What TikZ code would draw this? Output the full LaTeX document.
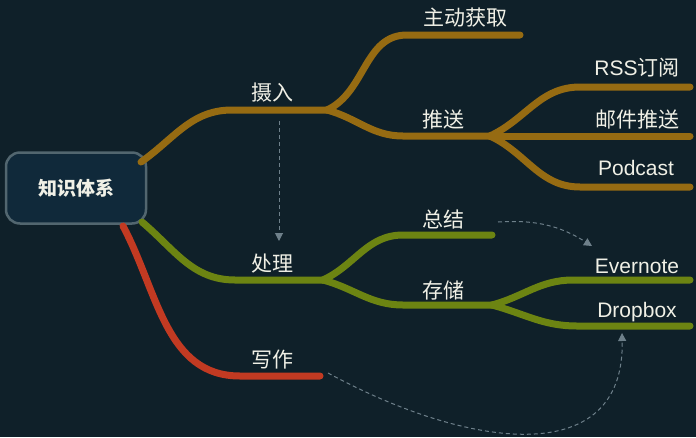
\documentclass[tikz,border=0pt]{standalone}
\usepackage{fontspec}
\setmainfont{Liberation Sans}
\newfontfamily\cjk{Noto Sans CJK SC}
\usepackage{xcolor}
\usetikzlibrary{arrows.meta}
\usetikzlibrary{positioning}

\definecolor{bgcol}{HTML}{0F2029}
\definecolor{boxfill}{HTML}{10293A}
\definecolor{boxline}{HTML}{52666F}
\definecolor{brown}{HTML}{966B12}
\definecolor{olive}{HTML}{6C8412}
\definecolor{redbr}{HTML}{C23A22}
\definecolor{txt}{HTML}{F0F0E6}
\definecolor{dash}{HTML}{6E808A}

\begin{document}
\begin{tikzpicture}[x=1pt,y=-1pt,
    branch/.style={line width=7pt,line cap=round},
    lbl/.style={text=txt,font=\fontsize{21}{25}\selectfont,inner sep=0pt},
    rootbox/.style={draw=boxline,line width=2.5pt,fill=boxfill,rounded corners=14pt,minimum width=140pt,minimum height=71pt,text=txt,font=\cjk\bfseries\fontsize{19}{23}\selectfont},
    link/.style={draw=dash,line width=1pt,dash pattern=on 4pt off 3pt,-{Triangle[length=8pt,width=8pt]}}]

    \useasboundingbox (0,0) rectangle (696,437);
    \fill[bgcol] (0,0) rectangle (696,437);

    % root
    \node[rootbox] (root) at (76,188) {知识体系};

    % points of the branches
    \coordinate (in0) at (141,162);
    \coordinate (in1) at (232,110);
    \coordinate (in2) at (327,110);
    \coordinate (get1) at (407,35);
    \coordinate (get2) at (520,35);
    \coordinate (push1) at (403,136);
    \coordinate (push2) at (490,136);
    \coordinate (rss1) at (580,87);
    \coordinate (rss2) at (690,87);
    \coordinate (mail2) at (690,136);
    \coordinate (pod1) at (580,187);
    \coordinate (pod2) at (690,187);

    \coordinate (do0) at (142,222);
    \coordinate (do1) at (235,280);
    \coordinate (do2) at (323,280);
    \coordinate (sum1) at (403,235);
    \coordinate (sum2) at (492,235);
    \coordinate (keep1) at (403,305);
    \coordinate (keep2) at (492,305);
    \coordinate (ever1) at (573,280);
    \coordinate (ever2) at (690,280);
    \coordinate (drop1) at (577,326);
    \coordinate (drop2) at (690,326);

    \coordinate (wr0) at (123,226);
    \coordinate (wr1) at (240,376);
    \coordinate (wr2) at (320,376);

    % branches
    \draw[branch,brown] (in0) to[out=35,in=180] (in1) -- (in2);
    \draw[branch,brown] (in2) to[out=25,in=180] (get1) -- (get2);
    \draw[branch,brown] (in2) to[out=-15,in=180] (push1) -- (push2);
    \draw[branch,brown] (push2) to[out=25,in=180] (rss1) -- (rss2);
    \draw[branch,brown] (push2) -- (mail2);
    \draw[branch,brown] (push2) to[out=-25,in=180] (pod1) -- (pod2);

    \draw[branch,olive] (do0) to[out=-40,in=180] (do1) -- (do2);
    \draw[branch,olive] (do2) to[out=25,in=180] (sum1) -- (sum2);
    \draw[branch,olive] (do2) to[out=-15,in=180] (keep1) -- (keep2);
    \draw[branch,olive] (keep2) to[out=15,in=180] (ever1) -- (ever2);
    \draw[branch,olive] (keep2) to[out=-15,in=180] (drop1) -- (drop2);

    \draw[branch,redbr] (wr0) to[out=-62,in=180] (wr1) -- (wr2);

    % labels
    \node[lbl] (in) at (272,93) {\cjk 摄入};
    \node[lbl] (get) at (465,18) {\cjk 主动获取};
    \node[lbl] (push) at (443,120) {\cjk 推送};
    \node[lbl] (rss) at (637,68) {RSS{\cjk 订阅}};
    \node[lbl] (mail) at (637,120) {\cjk 邮件推送};
    \node[lbl] (pod) at (636,168) {Podcast};
    \node[lbl] (do) at (272,264) {\cjk 处理};
    \node[lbl] (sum) at (443,219) {\cjk 总结};
    \node[lbl] (keep) at (443,290) {\cjk 存储};
    \node[lbl] (ever) at (637,266) {Evernote};
    \node[lbl] (drop) at (637,312) {Dropbox};
    \node[lbl] (wr) at (272,360) {\cjk 写作};

    % links
    \coordinate (a0) at (279,121);
    \coordinate (a1) at (279,241);
    \coordinate (b0) at (498,222);
    \coordinate (b1) at (592,246);
    \coordinate (c0) at (328,373);
    \coordinate (c1) at (622,333);
    \draw[link] (a0) -- (a1);
    \draw[link] (b0) to[bend left=18] (b1);
    \draw[link] (c0) .. controls (470,450) and (625,470) .. (c1);

\end{tikzpicture}
\end{document}
